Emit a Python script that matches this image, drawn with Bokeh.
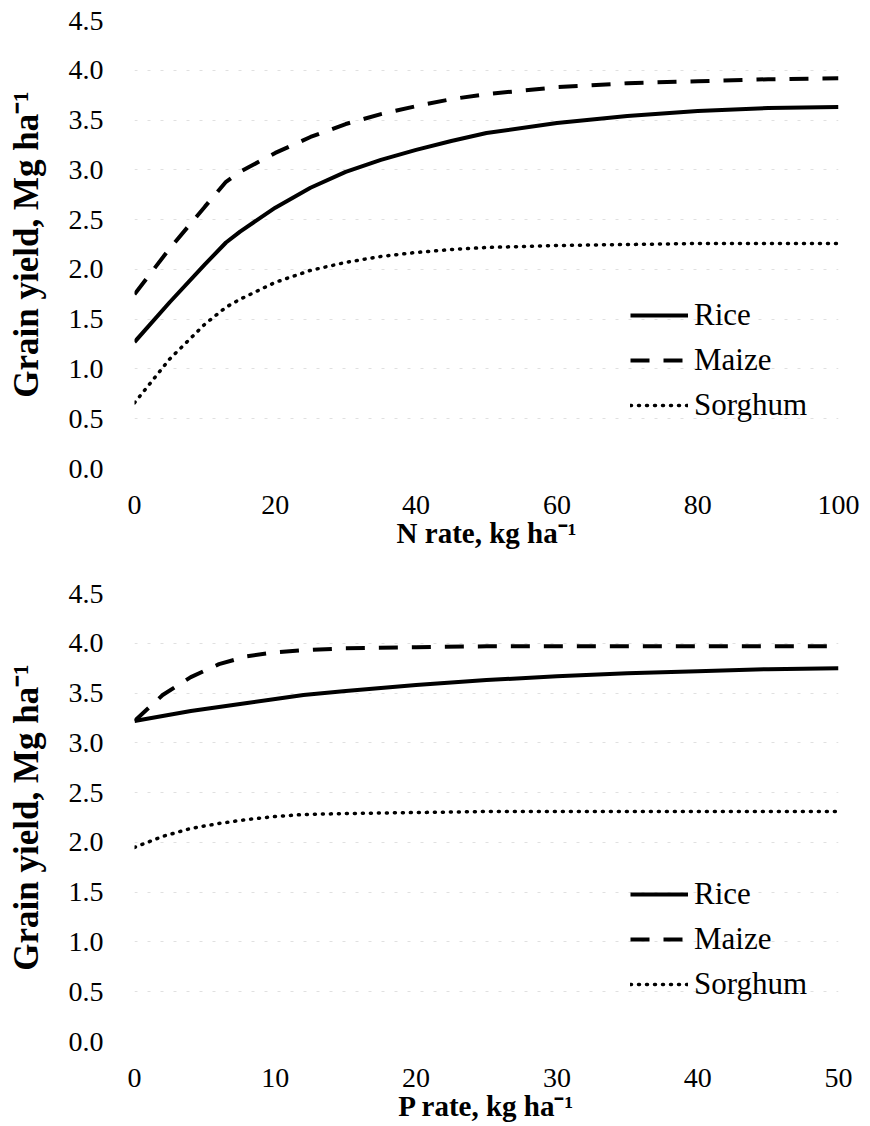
from bokeh.plotting import figure
from bokeh.layouts import column
from bokeh.models import Range1d, FixedTicker, NumeralTickFormatter, Legend, LegendItem
from bokeh.embed import file_html
from bokeh.resources import INLINE

# ---- data: N rate panel ----
n_rate = [0, 5, 10, 13, 15, 20, 25, 30, 35, 40, 45, 50, 60, 70, 80, 90, 100]
rice_n = [1.27, 1.67, 2.05, 2.27, 2.38, 2.62, 2.82, 2.98, 3.10, 3.20, 3.29, 3.37, 3.47, 3.54, 3.59, 3.62, 3.63]
maize_n = [1.75, 2.21, 2.63, 2.88, 2.98, 3.17, 3.33, 3.46, 3.56, 3.64, 3.71, 3.76, 3.83, 3.87, 3.89, 3.91, 3.92]
sorghum_n = [0.66, 1.10, 1.45, 1.62, 1.70, 1.87, 1.99, 2.07, 2.13, 2.17, 2.20, 2.22, 2.24, 2.25, 2.26, 2.26, 2.26]

# ---- data: P rate panel ----
p_rate = [0, 2, 4, 6, 8, 10, 12, 15, 20, 25, 30, 35, 40, 45, 50]
rice_p = [3.22, 3.27, 3.32, 3.36, 3.40, 3.44, 3.48, 3.52, 3.58, 3.63, 3.67, 3.70, 3.72, 3.74, 3.75]
maize_p = [3.22, 3.48, 3.66, 3.79, 3.87, 3.91, 3.93, 3.95, 3.96, 3.97, 3.97, 3.97, 3.97, 3.97, 3.97]
sorghum_p = [1.95, 2.06, 2.14, 2.19, 2.23, 2.26, 2.28, 2.29, 2.30, 2.31, 2.31, 2.31, 2.31, 2.31, 2.31]

y_ticks = [0.0, 0.5, 1.0, 1.5, 2.0, 2.5, 3.0, 3.5, 4.0, 4.5]
n_ticks = [0, 20, 40, 60, 80, 100]
p_ticks = [0, 10, 20, 30, 40, 50]

FONT = "Liberation Serif"


def make_panel(x, rice, maize, sorghum, xmax, xticks, xlabel, height, top, bottom, legend_y):
    p = figure(width=866, height=height, output_backend="svg", toolbar_location=None,
               x_range=Range1d(0, xmax), y_range=Range1d(0, 4.5),
               min_border_left=134, min_border_right=28,
               min_border_top=top, min_border_bottom=bottom)
    p.outline_line_color = None
    p.background_fill_color = "white"
    p.border_fill_color = "white"

    r1 = p.line(x, rice, line_color="black", line_width=4)
    r2 = p.line(x, maize, line_color="black", line_width=4, line_dash="19 14")
    r3 = p.line(x, sorghum, line_color="black", line_width=3.5, line_dash="1 7",
                line_cap="round")

    p.xgrid.grid_line_color = None
    p.ygrid.grid_line_color = "#e0e0e0"
    p.ygrid.grid_line_width = 1
    p.ygrid.grid_line_dash = "3 10"
    p.ygrid.ticker = FixedTicker(ticks=y_ticks)

    for ax in (p.xaxis[0], p.yaxis[0]):
        ax.axis_line_color = None
        ax.major_tick_line_color = None
        ax.minor_tick_line_color = None
        ax.major_tick_out = 0
        ax.major_tick_in = 0
        ax.major_label_text_font = FONT
        ax.major_label_text_font_size = "28px"
        ax.major_label_text_color = "black"
        ax.axis_label_text_font = FONT
        ax.axis_label_text_font_style = "bold"
        ax.axis_label_text_color = "black"

    p.xaxis.ticker = FixedTicker(ticks=xticks)
    p.xaxis.major_label_standoff = 27
    p.xaxis.axis_label = xlabel
    p.xaxis.axis_label_text_font_size = "29px"
    p.xaxis.axis_label_standoff = 0

    p.yaxis.ticker = FixedTicker(ticks=y_ticks)
    p.yaxis.formatter = NumeralTickFormatter(format="0.0")
    p.yaxis.major_label_standoff = 31
    p.yaxis.axis_label = "Grain yield, Mg ha⁻¹"
    p.yaxis.axis_label_text_font_size = "35px"
    p.yaxis.axis_label_standoff = 20

    legend = Legend(items=[LegendItem(label="Rice", renderers=[r1]),
                           LegendItem(label="Maize", renderers=[r2]),
                           LegendItem(label="Sorghum", renderers=[r3])],
                    location=(496, legend_y))
    legend.padding = 0
    legend.margin = 0
    legend.spacing = 5
    legend.glyph_width = 58
    legend.glyph_height = 40
    legend.label_height = 40
    legend.label_standoff = 6
    legend.label_text_font = FONT
    legend.label_text_font_size = "31px"
    legend.label_text_color = "black"
    legend.border_line_color = None
    legend.background_fill_alpha = 0
    p.add_layout(legend, "center")
    return p


p1 = make_panel(n_rate, rice_n, maize_n, sorghum_n, 100, n_ticks, "N rate, kg ha⁻¹",
                570, 20, 102, 43)
p2 = make_panel(p_rate, rice_p, maize_p, sorghum_p, 50, p_ticks, "P rate, kg ha⁻¹",
                556, 23, 85, 37)

layout = column(p1, p2, spacing=0)
open("out.html", "w").write(file_html(layout, INLINE))
